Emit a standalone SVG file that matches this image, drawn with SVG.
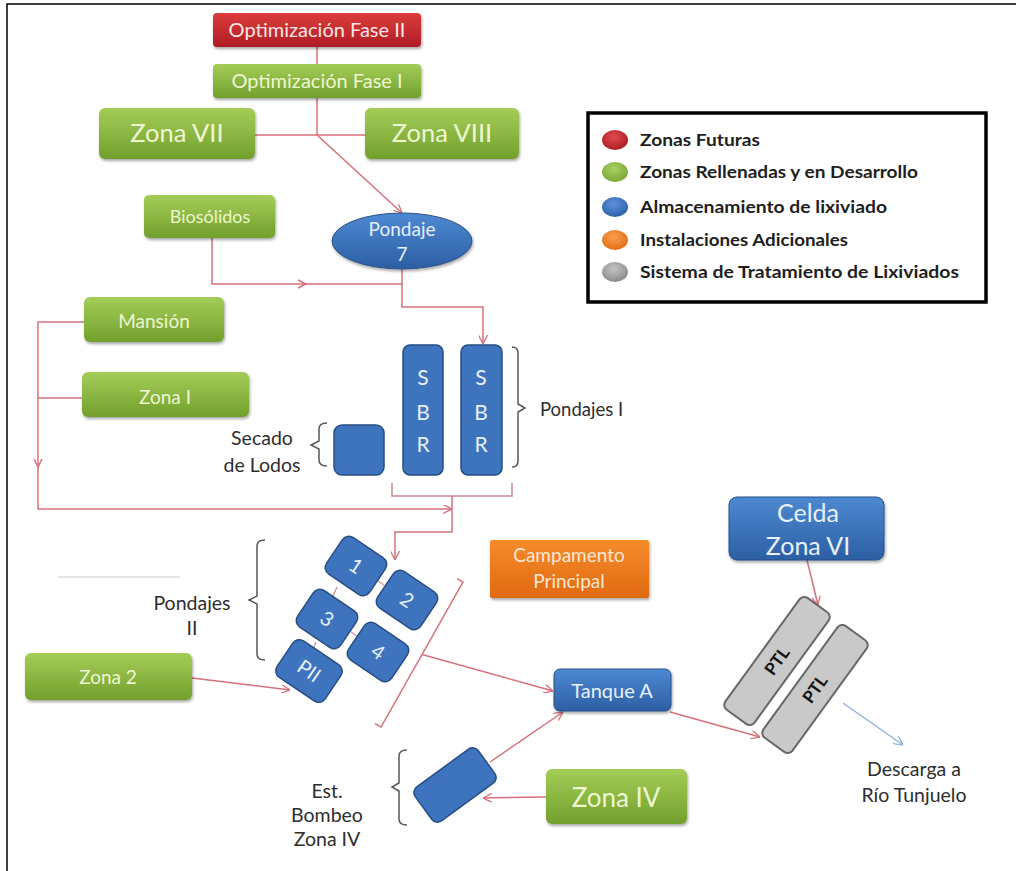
<svg xmlns="http://www.w3.org/2000/svg" width="1016" height="871" viewBox="0 0 1016 871">
<defs>
<linearGradient id="gG" x1="0" y1="0" x2="0" y2="1"><stop offset="0" stop-color="#a4cd58"/><stop offset="1" stop-color="#72a02c"/></linearGradient>
<linearGradient id="gR" x1="0" y1="0" x2="0" y2="1"><stop offset="0" stop-color="#dc3c3c"/><stop offset="1" stop-color="#ae1d24"/></linearGradient>
<linearGradient id="gB" x1="0" y1="0" x2="0" y2="1"><stop offset="0" stop-color="#4d89d2"/><stop offset="1" stop-color="#2c5fa4"/></linearGradient>
<linearGradient id="gO" x1="0" y1="0" x2="0" y2="1"><stop offset="0" stop-color="#f68b2c"/><stop offset="1" stop-color="#e06a10"/></linearGradient>
<radialGradient id="sR" cx="0.45" cy="0.35" r="0.7"><stop offset="0" stop-color="#e0484c"/><stop offset="1" stop-color="#a81c22"/></radialGradient>
<radialGradient id="sG" cx="0.45" cy="0.35" r="0.7"><stop offset="0" stop-color="#a9d160"/><stop offset="1" stop-color="#78a432"/></radialGradient>
<radialGradient id="sB" cx="0.45" cy="0.35" r="0.7"><stop offset="0" stop-color="#5c94dc"/><stop offset="1" stop-color="#2a5ca6"/></radialGradient>
<radialGradient id="sO" cx="0.45" cy="0.35" r="0.7"><stop offset="0" stop-color="#f8a050"/><stop offset="1" stop-color="#e06a10"/></radialGradient>
<radialGradient id="sK" cx="0.45" cy="0.35" r="0.7"><stop offset="0" stop-color="#c4c4c4"/><stop offset="1" stop-color="#858585"/></radialGradient>
<filter id="sh" x="-10%" y="-15%" width="125%" height="140%"><feDropShadow dx="1" dy="2" stdDeviation="1.5" flood-color="#000" flood-opacity="0.35"/></filter>
<marker id="ar" viewBox="0 0 10 10" refX="10" refY="5" markerWidth="9" markerHeight="9" markerUnits="userSpaceOnUse" orient="auto"><path d="M0,0 L10,5 L0,10" fill="none" stroke="#d6707a" stroke-width="1.4"/></marker>
<marker id="ab" viewBox="0 0 10 10" refX="10" refY="5" markerWidth="9" markerHeight="9" markerUnits="userSpaceOnUse" orient="auto"><path d="M0,0 L10,5 L0,10" fill="none" stroke="#8fb0d8" stroke-width="1.4"/></marker>
</defs>
<style>
text{font-family:Lato,"Open Sans","Liberation Sans",sans-serif}
.g{fill:url(#gG);filter:url(#sh)}
.r{fill:url(#gR);filter:url(#sh)}
.b{fill:url(#gB);stroke:#2a5088;stroke-width:1;filter:url(#sh)}
.o{fill:url(#gO);filter:url(#sh)}
.bs{fill:#3e73bd;stroke:#274d85;stroke-width:1.5}
.p{fill:#c9c9c9;stroke:#686868;stroke-width:2}
.tg{fill:#eef6d2;text-anchor:middle}
.tb{fill:#e8f0fb;text-anchor:middle}
.to{fill:#fde7d2;text-anchor:middle}
.tr{fill:#fbe6e6;text-anchor:middle}
.tk{fill:#2e2e2e;text-anchor:middle;font-size:19.5px}
.lg{fill:#1e1e1e;font-weight:bold;font-size:17px}
.c{fill:none;stroke:#d6707a;stroke-width:1.5}
.k{fill:none;stroke:#555;stroke-width:1.5}
</style>
<rect width="1016" height="871" fill="#fff"/>
<path d="M7,871 V4 H1016" fill="none" stroke="#000" stroke-width="1.5"/>
<line x1="58" y1="577" x2="180" y2="577" stroke="#dcdcdc" stroke-width="1.5"/>

<g id="connectors">
<path class="c" d="M317,47 V64"/>
<path class="c" d="M317,98 V135"/>
<path class="c" d="M255,135 H365"/>
<path class="c" d="M317,135 L402,213" marker-end="url(#ar)"/>
<path class="c" d="M212,238 V284 H402"/>
<path class="c" d="M298,280 L306,284 L298,288"/>
<path class="c" d="M402,269 V307 H483 V344" marker-end="url(#ar)"/>
<path class="c" d="M84,322 H38 V509 H452" marker-end="url(#ar)"/>
<path class="c" d="M82,398 H38"/>
<path class="c" d="M34,459 L38,467 L42,459"/>
<path d="M392,483 V496 H512 V483" fill="none" stroke="#c98a8e" stroke-width="1.5"/>
<path class="c" d="M452,496 V532 H395 V560" marker-end="url(#ar)"/>
<path class="c" d="M457,578.6 L463,582 L381,727 L375,723.6"/>
<path class="c" d="M422,654.5 L553,691" marker-end="url(#ar)"/>
<path class="c" d="M192,678 L290,690" marker-end="url(#ar)"/>
<path class="c" d="M490,762 L563,712" marker-end="url(#ar)"/>
<path class="c" d="M546,797 L483,798" marker-end="url(#ar)"/>
<path class="c" d="M670,712 L760,737" marker-end="url(#ar)"/>
<path class="c" d="M807,560 L818,605" marker-end="url(#ar)"/>
<path d="M843,703 L903,745" fill="none" stroke="#8fb0d8" stroke-width="1.3" marker-end="url(#ab)"/>
<path d="M378,581 L384,585 M337,587 L333,596 M351,632 L357,636 M316,642 L313,649" fill="none" stroke="#d89aa0" stroke-width="1.5"/>
</g>

<g id="fase2"><rect class="r" x="213" y="13" width="208" height="34" rx="4"/><text class="tr" x="317" y="37" font-size="20">Optimización Fase II</text></g>
<g id="fase1"><rect class="g" x="213" y="64" width="208" height="34" rx="4"/><text class="tg" x="317" y="88" font-size="20">Optimización Fase I</text></g>
<g id="zona7"><rect class="g" x="99" y="108" width="156" height="51" rx="6"/><text class="tg" x="177" y="142" font-size="25.5">Zona VII</text></g>
<g id="zona8"><rect class="g" x="365" y="108" width="154" height="51" rx="6"/><text class="tg" x="442" y="142" font-size="25.5">Zona VIII</text></g>
<g id="biosolidos"><rect class="g" x="144" y="195" width="131" height="43" rx="5"/><text class="tg" x="210" y="223" font-size="18">Biosólidos</text></g>
<g id="pondaje7"><ellipse class="b" cx="402" cy="241" rx="70" ry="28"/><text class="tb" x="402" y="236" font-size="19">Pondaje</text><text class="tb" x="402" y="261" font-size="19">7</text></g>
<g id="mansion"><rect class="g" x="84" y="297" width="140" height="45" rx="6"/><text class="tg" x="154" y="328" font-size="19">Mansión</text></g>
<g id="zona1"><rect class="g" x="82" y="372" width="167" height="45" rx="6"/><text class="tg" x="165" y="404" font-size="19">Zona I</text></g>

<g id="sbr1"><rect class="bs" x="403" y="345" width="40" height="130" rx="7"/><text class="tb" x="423" y="385" font-size="21">S</text><text class="tb" x="423" y="420" font-size="21">B</text><text class="tb" x="423" y="452" font-size="21">R</text></g>
<g id="sbr2"><rect class="bs" x="461" y="345" width="41" height="130" rx="7"/><text class="tb" x="481" y="385" font-size="21">S</text><text class="tb" x="481" y="420" font-size="21">B</text><text class="tb" x="481" y="452" font-size="21">R</text></g>
<g id="pondajes1"><path class="k" d="M512,347 Q518,347 518,353 V404 L525,408 L518,412 V461 Q518,467 512,467"/><text x="540" y="416" fill="#2e2e2e" font-size="18.5">Pondajes I</text></g>
<g id="secado"><rect class="bs" x="334" y="425" width="50" height="50" rx="8"/><path class="k" d="M327,423 Q319,423 319,429 V441 L311,445 L319,449 V460 Q319,466 327,466"/><text class="tk" x="262" y="445">Secado</text><text class="tk" x="262" y="472">de Lodos</text></g>

<g id="pondajes2">
<path class="k" d="M265,540 Q257,540 257,546 V596 L249,600 L257,604 V654 Q257,660 265,660"/>
<text class="tk" x="192" y="610" font-size="21">Pondajes</text><text class="tk" x="192" y="635" font-size="21">II</text>
<g transform="translate(356,566) rotate(34)"><rect class="bs" x="-26" y="-22" width="52" height="44" rx="8"/><text class="tb" x="0" y="7" font-size="20">1</text></g>
<g transform="translate(407,600) rotate(34)"><rect class="bs" x="-26" y="-22" width="52" height="44" rx="8"/><text class="tb" x="0" y="7" font-size="20">2</text></g>
<g transform="translate(327,619) rotate(34)"><rect class="bs" x="-26" y="-22" width="52" height="44" rx="8"/><text class="tb" x="0" y="7" font-size="20">3</text></g>
<g transform="translate(378,652) rotate(34)"><rect class="bs" x="-26" y="-22" width="52" height="44" rx="8"/><text class="tb" x="0" y="7" font-size="20">4</text></g>
<g transform="translate(309,671) rotate(34)"><rect class="bs" x="-29" y="-22" width="58" height="44" rx="8"/><text class="tb" x="0" y="7" font-size="20">PII</text></g>
</g>

<g id="campamento"><rect class="o" x="490" y="540" width="159" height="58" rx="2"/><text class="to" x="569" y="562" font-size="19">Campamento</text><text class="to" x="569" y="588" font-size="19">Principal</text></g>
<g id="celda"><rect class="b" x="729" y="497" width="155" height="63" rx="8"/><text class="tb" x="808" y="522" font-size="25">Celda</text><text class="tb" x="808" y="555" font-size="25">Zona VI</text></g>
<g id="zona2"><rect class="g" x="25" y="653" width="167" height="47" rx="6"/><text class="tg" x="108" y="684" font-size="19">Zona 2</text></g>
<g id="tanqueA"><rect class="b" x="554" y="669" width="117" height="42" rx="6"/><text class="tb" x="612" y="698" font-size="20">Tanque A</text></g>
<g id="zona4"><rect class="g" x="546" y="769" width="141" height="55" rx="6"/><text class="tg" x="616" y="807" font-size="26">Zona IV</text></g>
<g id="bombeo"><g transform="translate(455,785) rotate(-36)"><rect class="bs" x="-39" y="-21" width="78" height="42" rx="7"/></g><path class="k" d="M407,750 Q399,750 399,756 V783 L392,787 L399,791 V819 Q399,825 407,825"/><text class="tk" x="327" y="798">Est.</text><text class="tk" x="327" y="822">Bombeo</text><text class="tk" x="327" y="846">Zona IV</text></g>

<g id="ptl1" transform="translate(777,661) rotate(-54)"><rect class="p" x="-69" y="-18" width="138" height="36" rx="6"/><text x="0" y="6" text-anchor="middle" font-weight="bold" font-size="17" fill="#111">PTL</text></g>
<g id="ptl2" transform="translate(815,689) rotate(-54)"><rect class="p" x="-69" y="-18" width="138" height="36" rx="6"/><text x="0" y="6" text-anchor="middle" font-weight="bold" font-size="17" fill="#111">PTL</text></g>
<g id="descarga"><text class="tk" x="914" y="776" font-size="18.5">Descarga a</text><text class="tk" x="914" y="802" font-size="18.5">Río Tunjuelo</text></g>

<g id="legend">
<rect x="588" y="113" width="398" height="189" fill="#fff" stroke="#000" stroke-width="3.5"/>
<ellipse cx="615" cy="140" rx="13" ry="10" fill="url(#sR)"/><text class="lg" x="640" y="146" textLength="120" lengthAdjust="spacingAndGlyphs">Zonas Futuras</text>
<ellipse cx="615" cy="172" rx="13" ry="10" fill="url(#sG)"/><text class="lg" x="640" y="178" textLength="278" lengthAdjust="spacingAndGlyphs">Zonas Rellenadas y en Desarrollo</text>
<ellipse cx="615" cy="207" rx="13" ry="10" fill="url(#sB)"/><text class="lg" x="640" y="213" textLength="247" lengthAdjust="spacingAndGlyphs">Almacenamiento de lixiviado</text>
<ellipse cx="615" cy="240" rx="13" ry="10" fill="url(#sO)"/><text class="lg" x="640" y="246" textLength="208" lengthAdjust="spacingAndGlyphs">Instalaciones Adicionales</text>
<ellipse cx="615" cy="272" rx="13" ry="10" fill="url(#sK)"/><text class="lg" x="640" y="278" textLength="319" lengthAdjust="spacingAndGlyphs">Sistema de Tratamiento de Lixiviados</text>
</g>
</svg>
